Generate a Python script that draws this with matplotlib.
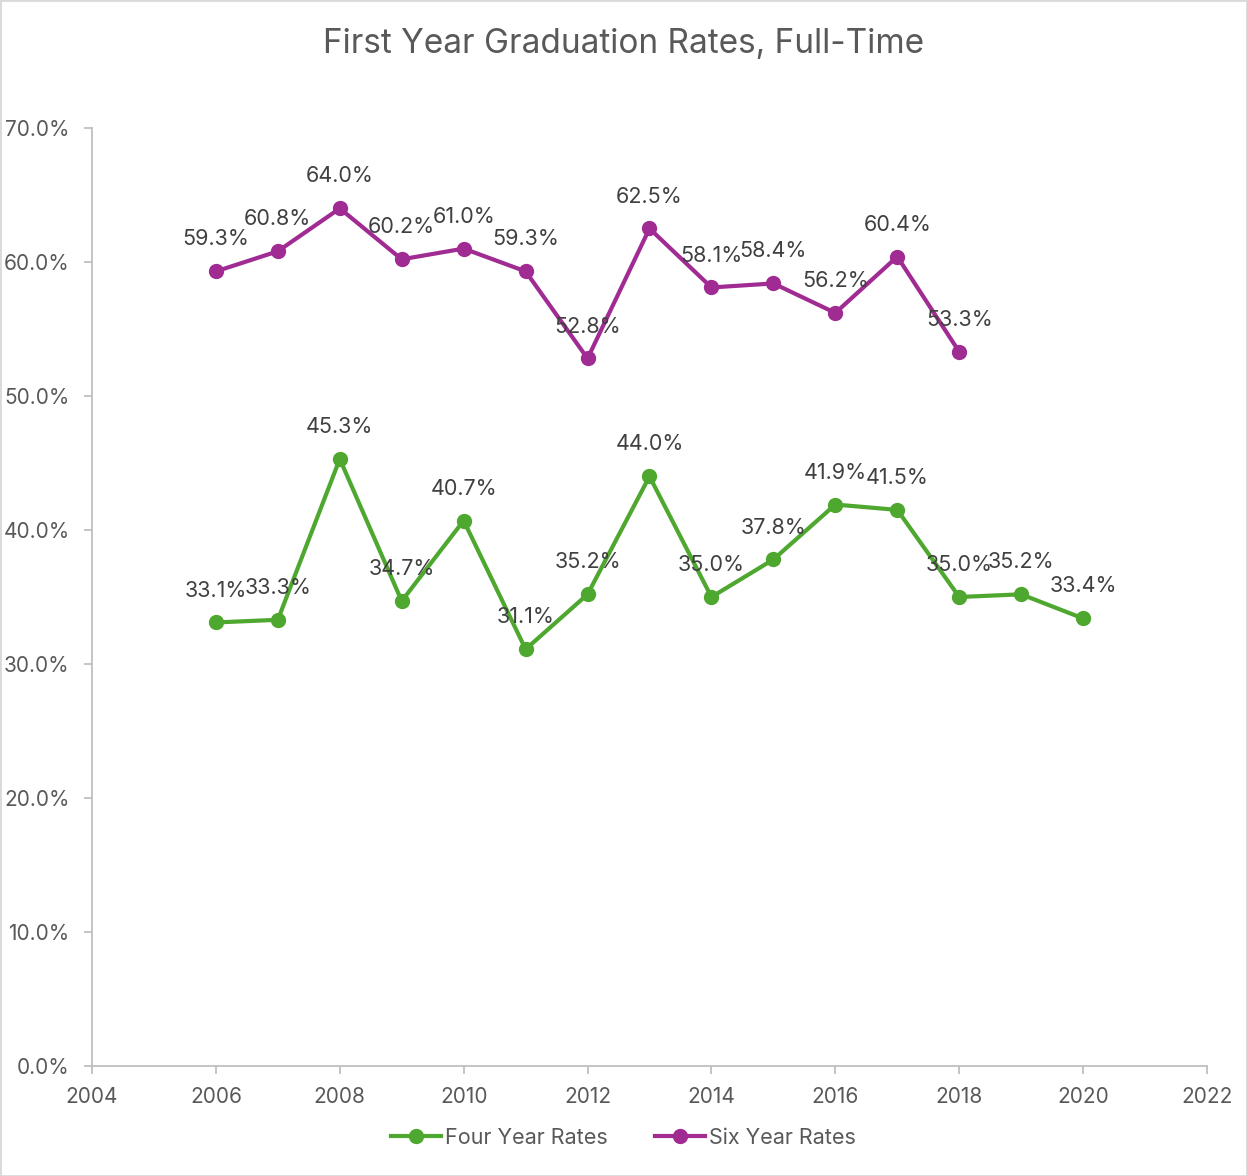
import matplotlib
matplotlib.use("Agg")
import matplotlib.pyplot as plt
from matplotlib.ticker import FuncFormatter, MultipleLocator
from matplotlib.patches import Rectangle

years_four = [2006, 2007, 2008, 2009, 2010, 2011, 2012, 2013, 2014, 2015, 2016, 2017, 2018, 2019, 2020]
four_year = [33.1, 33.3, 45.3, 34.7, 40.7, 31.1, 35.2, 44.0, 35.0, 37.8, 41.9, 41.5, 35.0, 35.2, 33.4]
years_six = [2006, 2007, 2008, 2009, 2010, 2011, 2012, 2013, 2014, 2015, 2016, 2017, 2018]
six_year = [59.3, 60.8, 64.0, 60.2, 61.0, 59.3, 52.8, 62.5, 58.1, 58.4, 56.2, 60.4, 53.3]

GREEN = "#4EA72E"
PURPLE = "#A02B93"
TXT = "#595959"
SPINE = "#BFBFBF"

plt.rcParams['font.family'] = ['Inter', 'DejaVu Sans']

fig = plt.figure(figsize=(12.47, 11.76), dpi=100)
ax = fig.add_axes([92/1247, 110/1176, (1207-92)/1247, (1066-128)/1176])

ax.plot(years_four, four_year, color=GREEN, lw=3, marker='o', ms=10, label='Four Year Rates', zorder=3)
ax.plot(years_six, six_year, color=PURPLE, lw=3, marker='o', ms=10, label='Six Year Rates', zorder=3)

for x, y in zip(years_four, four_year):
    ax.annotate(f"{y:.1f}%", (x, y), xytext=(0, 23), textcoords='offset points',
                ha='center', va='center', fontsize=15.5, color="#404040", zorder=4)
for x, y in zip(years_six, six_year):
    ax.annotate(f"{y:.1f}%", (x, y), xytext=(0, 23), textcoords='offset points',
                ha='center', va='center', fontsize=15.5, color="#404040", zorder=4)

ax.set_xlim(2004, 2022)
ax.set_ylim(0, 70)
ax.xaxis.set_major_locator(MultipleLocator(2))
ax.yaxis.set_major_locator(MultipleLocator(10))
ax.yaxis.set_major_formatter(FuncFormatter(lambda v, p: f"{v:.1f}%"))

for s in ['top', 'right']:
    ax.spines[s].set_visible(False)
for s in ['left', 'bottom']:
    ax.spines[s].set_color(SPINE)
    ax.spines[s].set_linewidth(1.3)
ax.tick_params(axis='both', colors=SPINE, labelcolor=TXT, labelsize=15, length=6, width=1.3, direction='out')
ax.tick_params(axis='y', pad=10)
ax.tick_params(axis='x', pad=9)

fig.text(0.5, 1 - 44/1176, "First Year Graduation Rates, Full-Time", ha='center', va='center',
         fontsize=24, color=TXT)

leg = fig.legend(loc='center', bbox_to_anchor=(0.5, 1 - 1138/1176), ncol=2, frameon=False,
                 fontsize=15.5, labelcolor=TXT, handlelength=2.3, handletextpad=0.2, columnspacing=2.2)

fig.patches.append(Rectangle((0, 0), 1, 1, transform=fig.transFigure, fill=False,
                             edgecolor="#D9D9D9", lw=2))

fig.savefig("out.png", dpi=100)
